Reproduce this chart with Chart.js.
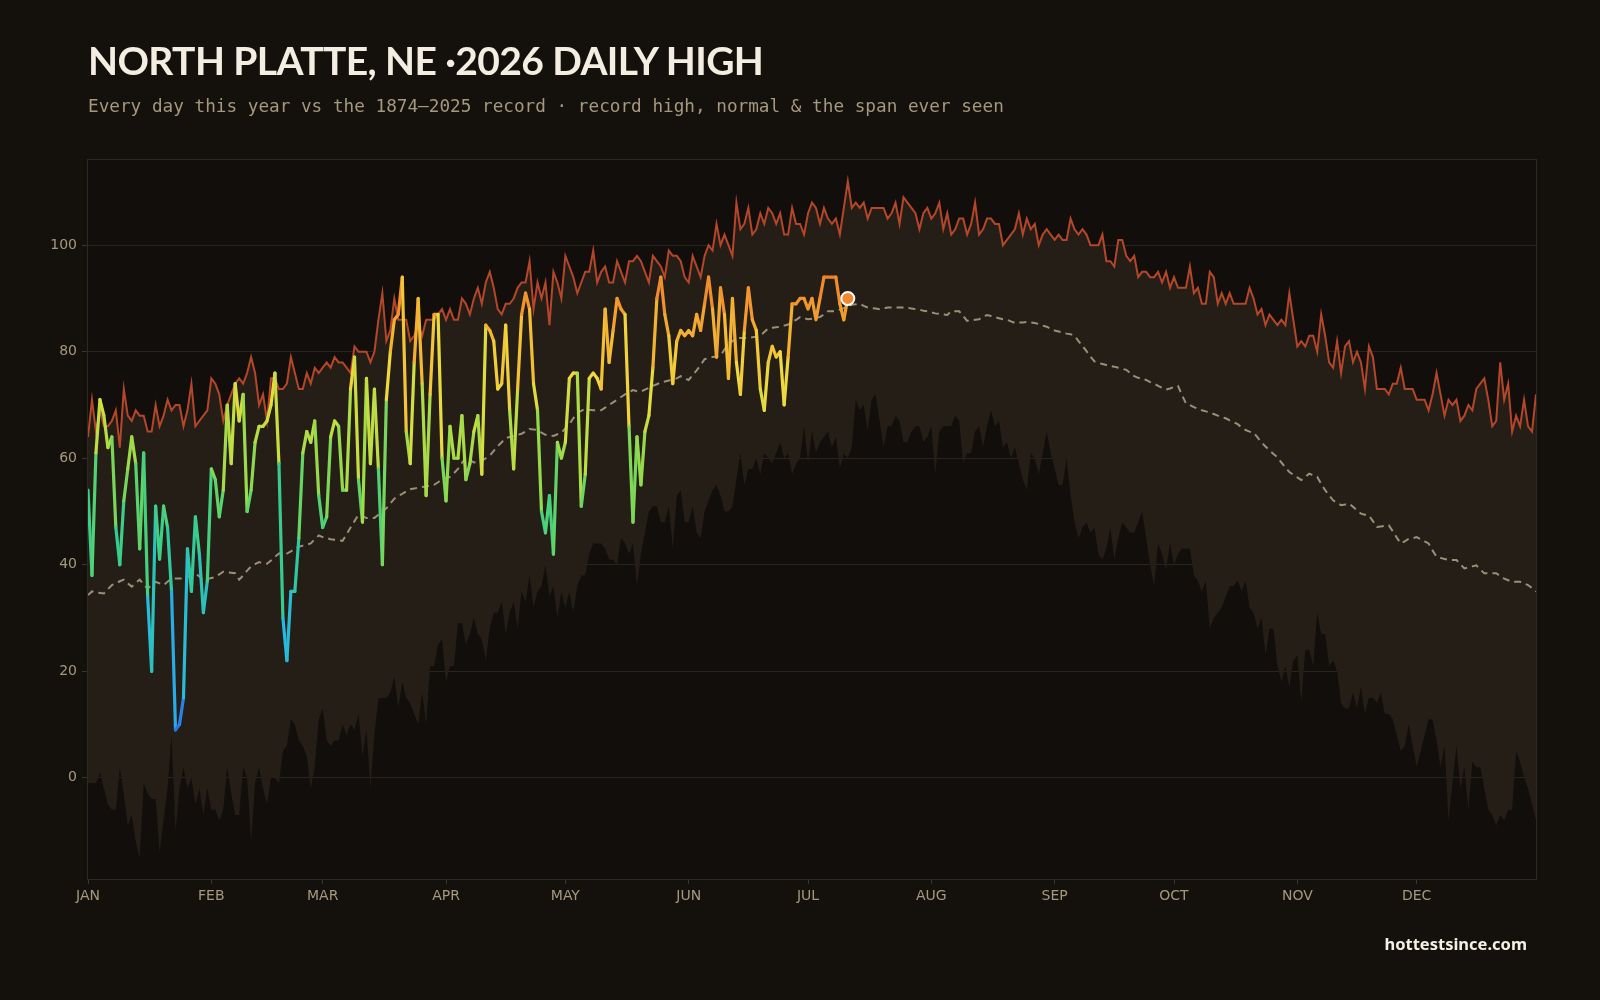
<!DOCTYPE html>
<html>
<head>
<meta charset="utf-8">
<script src="https://cdn.jsdelivr.net/npm/chart.js@4.4.1/dist/chart.umd.min.js"></script>
<style>
  html, body { margin: 0; padding: 0; background: #14110d; }
  #wrap { position: relative; width: 1600px; height: 1000px; overflow: hidden; }
  #chart { position: absolute; left: 0; top: 0; }
  #title { position: absolute; left: 88px; top: 37px; color: #f3ede2; font-family: Lato, sans-serif; font-weight: 700; font-size: 39px; letter-spacing: -0.6px; white-space: nowrap; }
  #subtitle { position: absolute; left: 88px; top: 96px; color: #a5987e; font-family: "DejaVu Sans Mono", monospace; font-size: 17.7px; white-space: nowrap; }
  #site { position: absolute; right: 73px; top: 932px; color: #f5f0e6; font-family: "Noto Sans", sans-serif; font-weight: 700; font-size: 16.5px; }
</style>
</head>
<body>
<div id="wrap">
  <canvas id="chart" width="1600" height="1000"></canvas>
  <div id="title">NORTH PLATTE, NE ·2026 DAILY HIGH</div>
  <div id="subtitle">Every day this year vs the 1874–2025 record · record high, normal &amp; the span ever seen</div>
  <div id="site">hottestsince.com</div>
</div>
<script>
// month ticks (day of year, 2026 is not a leap year)
const monthStarts = [0, 31, 59, 90, 120, 151, 181, 212, 243, 273, 304, 334];
const monthNames = ['JAN', 'FEB', 'MAR', 'APR', 'MAY', 'JUN', 'JUL', 'AUG', 'SEP', 'OCT', 'NOV', 'DEC'];
const yTicks = [0, 20, 40, 60, 80, 100];

// record high of the daily high, 1874-2025, one value per day
const recordHigh = [
  64,71,65,69,66,66,67,69,62,73, 68,67,69,68,68,65,65,70,66,68,
  71,69,70,70,66,69,74,66,67,68, 69,75,74,72,67,70,72,74,75,74,
  76,79,76,70,72,67,75,75,73,73, 74,79,76,73,73,76,74,77,76,77,
  78,77,79,78,78,77,76,81,80,80, 80,78,80,86,91,82,84,90,86,86,
  86,82,83,85,83,86,86,86,87,88, 86,88,86,86,90,89,87,90,92,89,
  93,95,92,88,87,89,89,90,92,93, 93,97,88,93,90,93,85,95,93,90,
  98,96,94,91,93,95,95,99,93,95, 96,93,93,97,95,93,97,97,98,97,
  95,93,98,97,96,94,99,98,98,97, 94,93,98,96,94,98,100,99,104,100,
  102,100,98,108,103,104,107,102,103,106, 104,107,106,104,106,102,102,107,104,104,
  102,106,108,107,104,107,105,104,105,102, 107,112,107,108,107,108,105,107,107,107,
  107,105,106,108,104,109,108,107,106,103, 106,107,105,106,108,103,106,102,103,105,
  105,102,104,108,102,103,105,105,104,104, 100,101,102,103,106,102,105,103,104,100,
  102,103,102,101,102,101,101,105,103,102, 103,102,100,100,100,102,97,97,96,101,
  101,98,97,98,94,95,95,94,94,95, 93,95,92,94,92,92,92,96,91,92,
  89,89,95,94,89,91,89,91,89,89, 89,89,92,90,87,88,85,87,86,85,
  86,85,91,86,81,82,81,83,83,80, 87,83,78,77,82,76,81,82,78,80,
  78,73,81,79,73,73,73,72,74,74, 77,73,73,73,71,71,71,69,72,76,
  72,68,71,70,71,67,68,70,69,73, 74,75,71,66,67,78,71,74,65,68,
  66,71,66,65,72
];

// lowest daily high ever seen (bottom of the span)
const recordLow = [
  -1,-1,-1,1,-2,-5,-6,-6,2,-3, -9,-7,-12,-15,-1,-3,-4,-4,-14,-8,
  -2,8,-10,-2,2,-2,0,-5,-2,-7, -2,-6,-6,-8,-6,2,-3,-7,-7,2,
  0,-12,-1,2,-2,-5,0,0,-1,5, 6,11,10,7,6,4,-2,2,11,13,
  7,6,7,7,10,8,10,9,12,4, 9,-2,8,15,15,15,16,19,13,18,
  15,14,12,10,16,10,21,21,25,26, 18,21,21,29,29,25,27,30,27,26,
  22,28,31,31,33,27,31,33,28,35, 33,38,32,35,36,40,34,36,30,35,
  32,35,31,36,38,38,42,44,44,44, 43,41,41,40,45,44,42,44,36,42,
  46,50,51,51,48,48,51,43,53,54, 48,48,51,46,45,50,52,54,55,53,
  50,50,51,56,61,55,58,58,60,57, 61,60,59,61,63,60,61,57,59,60,
  66,59,65,61,63,64,65,62,64,58, 61,60,62,71,69,70,65,71,72,67,
  62,66,66,68,67,63,63,65,66,66, 63,64,66,57,65,66,66,66,68,67,
  59,61,61,65,66,62,66,69,66,67, 62,63,60,62,59,56,54,61,60,57,
  61,65,61,58,55,55,60,53,48,45, 47,48,46,47,42,41,43,47,41,45,
  48,47,46,46,48,50,45,40,36,44, 42,39,44,40,42,43,43,43,38,37,
  35,37,28,30,31,32,34,36,36,37, 35,37,32,31,28,30,23,28,28,21,
  18,21,17,22,23,14,24,24,21,31, 27,27,21,22,20,14,13,13,16,13,
  17,12,15,15,14,16,12,12,11,8, 5,6,10,6,2,5,8,11,11,7,
  2,6,-8,-1,6,-2,2,-6,3,2, 2,-2,-6,-7,-9,-7,-8,-6,-6,5,
  3,0,-2,-5,-8
];

// normal daily high
const normal = [
  34.3,35.0,34.8,34.7,34.6,35.4,36.2,36.5,36.9,37.2, 36.5,35.9,36.6,37.2,36.3,35.5,36.2,36.8,36.5,36.2,
  36.8,37.4,37.4,37.4,37.4,37.7,38.1,38.4,37.8,37.1, 37.3,37.5,37.7,38.2,38.7,38.6,38.5,38.4,37.2,38.0,
  38.9,39.7,40.1,40.5,40.3,40.2,40.8,41.5,42.1,42.1, 42.1,42.5,43.0,43.4,43.6,43.8,44.0,44.8,45.5,45.2,
  45.0,44.8,44.7,44.6,44.5,45.7,47.0,48.2,49.4,49.1, 48.8,48.8,48.8,49.4,50.0,50.6,51.5,52.4,52.9,53.3,
  53.8,54.2,54.3,54.5,54.6,54.7,54.9,55.0,55.5,56.0, 56.3,56.5,57.2,58.0,59.1,60.2,59.7,59.2,59.3,59.5,
  60.0,60.5,61.4,62.3,63.0,63.8,64.0,64.2,64.4,64.6, 65.0,65.5,65.4,65.3,64.8,64.4,64.3,64.2,64.5,64.8,
  65.6,66.4,67.5,68.5,68.9,69.3,69.1,69.0,69.0,69.0, 69.5,70.0,70.5,71.0,71.5,72.0,72.4,72.8,72.6,72.5,
  72.9,73.2,73.6,73.9,74.3,74.4,74.6,74.7,75.0,75.4, 75.0,74.7,75.6,76.5,77.5,78.6,78.8,79.0,79.1,79.3,
  80.4,81.5,82.0,82.6,82.6,82.6,82.6,82.7,82.8,83.0, 83.7,84.4,84.5,84.6,84.7,84.9,85.1,85.6,86.0,86.5,
  86.3,86.1,86.2,86.4,86.5,87.0,87.6,87.6,87.6,87.9, 88.2,88.5,88.8,88.9,89.0,88.6,88.3,88.2,88.1,88.0,
  88.1,88.3,88.3,88.3,88.3,88.3,88.3,88.1,88.0,87.9, 87.7,87.6,87.4,87.2,87.1,87.0,86.9,87.6,87.6,87.6,
  86.7,85.8,85.9,86.0,86.1,86.5,86.9,86.7,86.5,86.3, 86.1,86.0,85.7,85.4,85.5,85.5,85.6,85.5,85.4,85.2,
  84.9,84.7,84.3,84.0,83.8,83.6,83.4,83.3,83.0,82.0, 81.1,80.1,79.1,78.2,77.9,77.7,77.5,77.3,77.2,77.0,
  76.8,76.6,76.0,75.4,75.1,74.9,74.7,74.3,74.0,73.6, 73.2,72.9,73.1,73.4,73.6,71.9,70.3,70.0,69.6,69.3,
  69.0,68.8,68.6,68.3,68.0,67.7,67.5,67.1,66.8,66.4, 65.8,65.3,65.0,64.8,63.9,63.0,62.2,61.5,60.8,60.2,
  59.2,58.3,57.4,56.9,56.4,55.9,56.5,57.1,56.8,56.5, 55.2,54.0,53.0,52.1,51.6,51.2,51.3,51.5,50.9,50.2,
  49.6,49.4,49.3,48.2,47.1,47.2,47.3,47.4,46.3,45.1, 44.0,44.4,44.9,45.0,45.2,44.8,44.4,44.0,42.7,41.5,
  41.3,41.1,40.9,40.9,40.9,40.1,39.3,39.5,39.7,39.9, 39.1,38.4,38.4,38.4,38.4,37.9,37.4,37.1,36.8,36.8,
  36.8,36.5,36.2,35.6,35.0
];

// 2026 daily highs so far (Jan 1 .. Jul 11)
const thisYear = [
  54,38,61,71,68,62,64,47,40,52, 58,64,59,43,61,34,20,51,41,51,
  47,35,9,10,15,43,35,49,42,31, 37,58,56,49,54,70,59,74,67,72,
  50,54,63,66,66,67,70,76,59,30, 22,35,35,45,61,65,63,67,53,47,
  49,64,67,66,54,54,73,79,56,48, 75,59,73,58,40,71,80,86,87,94,
  65,59,78,90,74,53,72,87,87,60, 52,66,60,60,68,56,59,65,68,57,
  85,84,82,73,74,85,69,58,73,87, 91,88,74,69,50,46,53,42,63,60,
  63,75,76,76,51,57,75,76,75,73, 88,78,84,90,88,87,66,48,64,55,
  65,68,77,90,94,87,83,74,82,84, 83,84,83,87,84,89,94,88,79,92,
  87,75,90,78,72,84,92,86,84,73, 69,78,81,79,80,70,79,89,89,90,
  90,88,90,86,90,94,94,94,94,89, 86,90
];

const pts = arr => arr.map((v, i) => ({ x: i, y: v }));

// colour of this year's line by temperature
const colorStops = [
  [5, [40, 95, 222]],
  [15, [44, 140, 236]],
  [25, [40, 184, 228]],
  [38, [45, 196, 175]],
  [45, [55, 205, 140]],
  [52, [95, 212, 105]],
  [60, [150, 218, 75]],
  [68, [205, 222, 65]],
  [75, [240, 218, 62]],
  [82, [244, 185, 52]],
  [89, [242, 150, 45]],
  [95, [238, 125, 42]]
];
function tempColor(t) {
  if (t <= colorStops[0][0]) return 'rgb(' + colorStops[0][1].join(',') + ')';
  for (let i = 1; i < colorStops.length; i++) {
    if (t <= colorStops[i][0]) {
      const a = colorStops[i - 1], b = colorStops[i];
      const f = (t - a[0]) / (b[0] - a[0]);
      const c = a[1].map((v, k) => Math.round(v + (b[1][k] - v) * f));
      return 'rgb(' + c.join(',') + ')';
    }
  }
  return 'rgb(' + colorStops[colorStops.length - 1][1].join(',') + ')';
}

const tickColor = '#a5987e';
const gridColor = '#2a241e';

const plotBg = {
  id: 'plotBg',
  beforeDraw(chart) {
    const a = chart.chartArea, c = chart.ctx;
    c.save();
    c.fillStyle = '#110e0b';
    c.fillRect(a.left, a.top, a.right - a.left, a.bottom - a.top);
    c.restore();
  },
  afterDraw(chart) {
    const a = chart.chartArea, c = chart.ctx;
    c.save();
    c.strokeStyle = '#2c2822';
    c.lineWidth = 1;
    c.strokeRect(a.left - 0.5, a.top - 0.5, a.right - a.left + 1, a.bottom - a.top + 1);
    c.restore();
  }
};

const last = thisYear.length - 1;

var ctx = document.getElementById('chart').getContext('2d');
var mychart = new Chart(ctx, {
  type: 'line',
  data: {
    datasets: [
      {
        label: 'today',
        data: [{ x: last, y: thisYear[last] }],
        showLine: false,
        pointRadius: 6.5,
        pointBackgroundColor: '#ef8a2f',
        pointBorderColor: '#ffffff',
        pointBorderWidth: 2,
        order: 0
      },
      {
        label: '2026',
        data: pts(thisYear),
        borderWidth: 3.2,
        borderColor: '#f0c040',
        pointRadius: 0,
        borderJoinStyle: 'round',
        borderCapStyle: 'round',
        segment: {
          borderColor: c => tempColor((c.p0.parsed.y + c.p1.parsed.y) / 2)
        },
        order: 1
      },
      {
        label: 'normal',
        data: pts(normal),
        borderColor: '#9b8f78',
        borderWidth: 2,
        borderDash: [7, 5],
        pointRadius: 0,
        order: 2
      },
      {
        label: 'record high',
        data: pts(recordHigh),
        borderColor: '#b4462a',
        borderWidth: 2,
        pointRadius: 0,
        fill: '+1',
        backgroundColor: '#241e16',
        order: 3
      },
      {
        label: 'record low',
        data: pts(recordLow),
        borderWidth: 0,
        borderColor: 'rgba(0,0,0,0)',
        pointRadius: 0,
        fill: false,
        order: 4
      }
    ]
  },
  options: {
    responsive: false,
    animation: false,
    devicePixelRatio: 1,
    layout: { padding: { left: 0, top: 160, right: 64, bottom: 81 } },
    plugins: { legend: { display: false }, tooltip: { enabled: false } },
    scales: {
      x: {
        type: 'linear',
        min: 0,
        max: 364,
        afterFit: s => { s.height = 40; },
        afterBuildTicks: s => { s.ticks = monthStarts.map(v => ({ value: v })); },
        grid: { drawOnChartArea: false, drawTicks: true, tickLength: 5, color: '#3a342c' },
        border: { display: false },
        ticks: {
          autoSkip: false,
          maxRotation: 0,
          padding: 4,
          color: tickColor,
          font: { family: 'DejaVu Sans', size: 14 },
          callback: v => monthNames[monthStarts.indexOf(v)]
        }
      },
      y: {
        min: -19,
        max: 116,
        afterFit: s => { s.width = 88; },
        afterBuildTicks: s => { s.ticks = yTicks.map(v => ({ value: v })); },
        grid: { color: gridColor, tickLength: 6, tickColor: '#3a342c' },
        border: { display: false },
        ticks: {
          padding: 5,
          color: tickColor,
          font: { family: 'DejaVu Sans', size: 14 }
        }
      }
    }
  },
  plugins: [plotBg]
});
</script>
</body>
</html>
